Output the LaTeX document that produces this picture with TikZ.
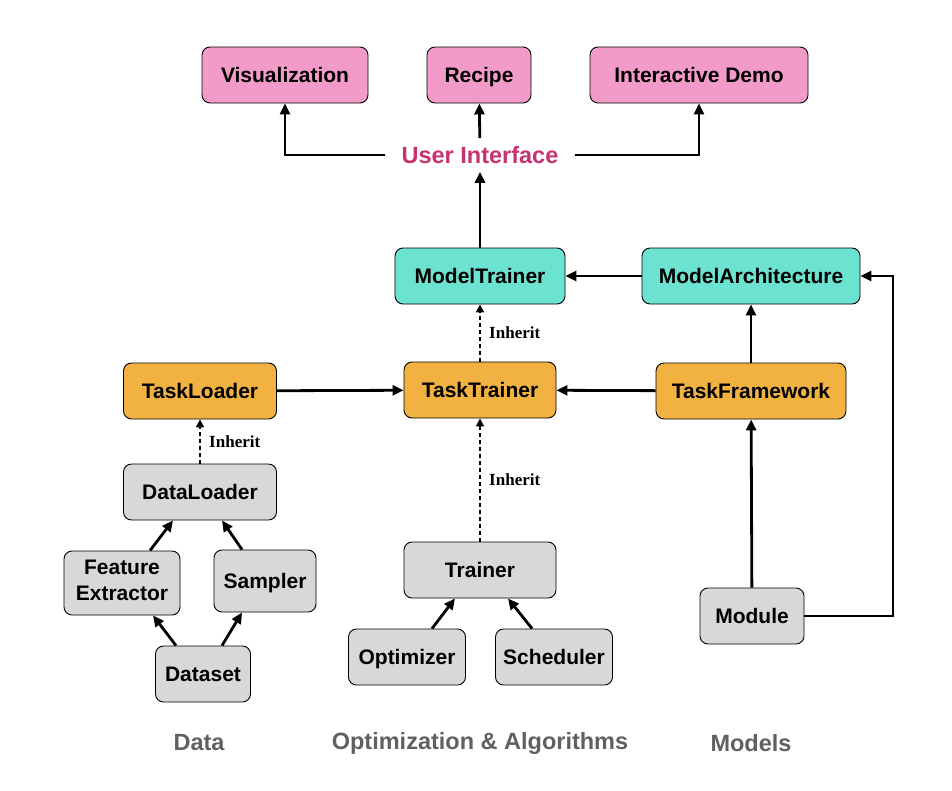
\documentclass[tikz,border=0pt]{standalone}
\usepackage{fontspec}
\setmainfont{Liberation Sans}
\newfontfamily\inhfont{Liberation Serif}
\usetikzlibrary{arrows.meta}
\definecolor{uipink}{RGB}{242,155,200}
\definecolor{mteal}{RGB}{108,227,208}
\definecolor{torange}{RGB}{242,178,66}
\definecolor{bgray}{RGB}{216,216,216}
\definecolor{uimag}{RGB}{200,50,110}
\definecolor{labgray}{RGB}{96,96,96}
\begin{document}
\begin{tikzpicture}[x=1pt, y=-1pt,
  box/.style={draw=black, line width=0.9pt, rounded corners=8pt, minimum height=56pt,
    align=center, inner sep=2pt, font=\fontsize{21}{26}\selectfont\bfseries,
    execute at begin node={\rule[-4.5pt]{0pt}{24pt}}},
  pinkbox/.style={box, fill=uipink},
  tealbox/.style={box, fill=mteal},
  orangebox/.style={box, fill=torange},
  graybox/.style={box, fill=bgray},
  arr/.style={line width=2.8pt, -{Triangle[length=11pt,width=10pt]}},
  inh/.style={line width=1.8pt, dash pattern=on 4pt off 3pt, -{Triangle[length=8pt,width=8pt]}},
  inhlabel/.style={right, xshift=5pt, font=\inhfont\fontsize{17}{19}\selectfont\bfseries},
  group/.style={text=labgray, font=\fontsize{23.5}{26}\selectfont\bfseries}]
\useasboundingbox (0,0) rectangle (952,790);
% user interface
\node[pinkbox, minimum width=166pt] (vis) at (285,75) {Visualization};
\node[pinkbox, minimum width=104pt] (rec) at (479,75) {Recipe};
\node[pinkbox, minimum width=218pt] (demo) at (699,75) {Interactive Demo};
\node[text=uimag, inner xsep=16pt, inner ysep=8pt, font=\fontsize{23.5}{26}\selectfont\bfseries] (ui) at (480,155) {User Interface};
% models
\node[tealbox, minimum width=170pt] (mt) at (480,276) {ModelTrainer};
\node[tealbox, minimum width=218pt] (ma) at (751,276) {ModelArchitecture};
% tasks
\node[orangebox, minimum width=153pt] (tl) at (200,391) {TaskLoader};
\node[orangebox, minimum width=152pt] (tt) at (480,390) {TaskTrainer};
\node[orangebox, minimum width=190pt] (tf) at (751,391) {TaskFramework};
% data
\node[graybox, minimum width=116pt, minimum height=64pt] (fe) at (122,583) {Feature\\Extractor};
\node[graybox, minimum width=153pt] (dl) at (200,492) {DataLoader};
\node[graybox, minimum width=102pt, minimum height=62pt] (sp) at (265,581) {Sampler};
\node[graybox, minimum width=95pt] (ds) at (203,674) {Dataset};
% optimization
\node[graybox, minimum width=152pt] (tr) at (480,570) {Trainer};
\node[graybox, minimum width=117pt] (opt) at (407,657) {Optimizer};
\node[graybox, minimum width=117pt] (sch) at (554,657) {Scheduler};
% modules
\node[graybox, minimum width=104pt] (mod) at (752,616) {Module};
\coordinate (turn) at (893,616);
% group labels
\node[group] (gdata) at (199,743) {Data};
\node[group] (gopt) at (480,743) {Optimization \& Algorithms};
\node[group] (gmod) at (751,743) {Models};
% connectors
\draw[arr] (ui.west) -| (vis.south);
\draw[arr] (ui) -- (rec);
\draw[arr] (ui.east) -| (demo.south);
\draw[arr] (mt) -- (ui);
\draw[arr] (ma) -- (mt);
\draw[arr] (mod.east) -- (turn) |- (ma.east);
\draw[arr] (tl) -- (tt);
\draw[arr] (tf) -- (tt);
\draw[arr] (tf) -- (ma);
\draw[arr] (mod) -- (tf);
\draw[inh] (tt) -- (mt) node[midway, inhlabel] {Inherit};
\draw[inh] (dl) -- (tl) node[midway, inhlabel] {Inherit};
\draw[inh] (tr) -- (tt) node[midway, inhlabel] {Inherit};
\draw[arr] ([xshift=28pt]fe.north) -- ([xshift=-27pt]dl.south);
\draw[arr] ([xshift=-23pt]sp.north) -- ([xshift=22pt]dl.south);
\draw[arr] ([xshift=-27pt]ds.north) -- ([xshift=31pt]fe.south);
\draw[arr] ([xshift=19pt]ds.north) -- ([xshift=-23pt]sp.south);
\draw[arr] ([xshift=25pt]opt.north) -- ([xshift=-25pt]tr.south);
\draw[arr] ([xshift=-22pt]sch.north) -- ([xshift=28pt]tr.south);
\end{tikzpicture}
\end{document}
